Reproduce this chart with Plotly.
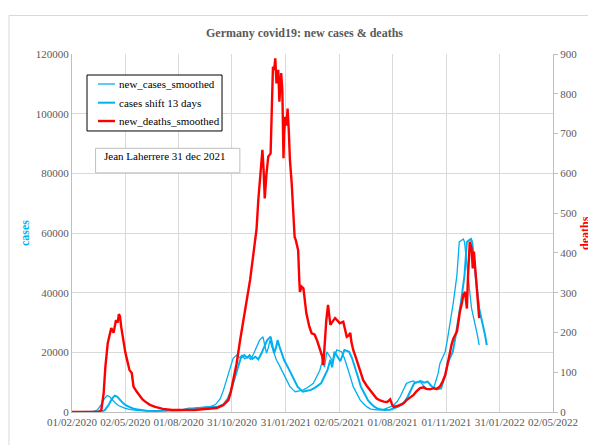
import pandas as pd
import plotly.graph_objects as go

# ---------------- data ----------------
case_dates = [
    "2020-02-01", "2020-03-07", "2020-03-15", "2020-03-22", "2020-03-27", "2020-04-01", "2020-04-05",
    "2020-04-11", "2020-04-15", "2020-04-21", "2020-05-02", "2020-05-11", "2020-05-25", "2020-06-10",
    "2020-06-30", "2020-07-15", "2020-07-30", "2020-08-09", "2020-08-18", "2020-08-29", "2020-09-13",
    "2020-09-24", "2020-10-03", "2020-10-11", "2020-10-16", "2020-10-22", "2020-10-28", "2020-11-02",
    "2020-11-08", "2020-11-13", "2020-11-17", "2020-11-22", "2020-11-27", "2020-12-02", "2020-12-07",
    "2020-12-12", "2020-12-17", "2020-12-23", "2020-12-26", "2020-12-29", "2021-01-01", "2021-01-04",
    "2021-01-07", "2021-01-11", "2021-01-15", "2021-01-21", "2021-01-27", "2021-02-01", "2021-02-07",
    "2021-02-12", "2021-02-16", "2021-02-23", "2021-03-02", "2021-03-09", "2021-03-15", "2021-03-19",
    "2021-03-25", "2021-03-30", "2021-04-04", "2021-04-07", "2021-04-11", "2021-04-16", "2021-04-21",
    "2021-04-28", "2021-05-06", "2021-05-11", "2021-05-15", "2021-05-21", "2021-05-26", "2021-06-01",
    "2021-06-07", "2021-06-13", "2021-06-18", "2021-06-25", "2021-07-05", "2021-07-15", "2021-07-22",
    "2021-07-28", "2021-08-03", "2021-08-09", "2021-08-14", "2021-08-20", "2021-08-25", "2021-08-30",
    "2021-09-05", "2021-09-11", "2021-09-17", "2021-09-23", "2021-09-28", "2021-10-04", "2021-10-10",
    "2021-10-15", "2021-10-18", "2021-10-21", "2021-10-30", "2021-11-03", "2021-11-07", "2021-11-13",
    "2021-11-19", "2021-11-23", "2021-11-27", "2021-11-30", "2021-12-02", "2021-12-05", "2021-12-08",
    "2021-12-11", "2021-12-14", "2021-12-17", "2021-12-20", "2021-12-24", "2021-12-27",
]
new_cases_smoothed = [
    0, 50, 600, 2500, 4400, 5500, 5200,
    3800, 3000, 2100, 1200, 800, 450, 350,
    400, 450, 650, 900, 1300, 1400, 1500,
    1800, 2500, 4500, 7000, 10700, 15000, 18000,
    19100, 18200, 19000, 17800, 18500, 17600, 19500,
    21500, 24000, 25200, 22000, 19700, 21500, 24100,
    22000, 19500, 17400, 15200, 13000, 11000, 8500,
    7500, 6800, 7100, 7400, 8200, 9200, 9600,
    12000, 14000, 17500, 15000, 20200, 18500, 17000,
    20800, 20200, 18000, 15200, 11800, 8500, 6000,
    4000, 2700, 1800, 1000, 700, 750, 1200,
    1700, 2300, 3500, 5100, 7400, 9600, 10000,
    10400, 9800, 10200, 8800, 7900, 7600, 7900,
    11000, 13000, 16300, 20200, 24500, 29100, 36900,
    45900, 57000, 57600, 58000, 57000, 52000, 45900,
    40000, 34700, 32000, 30300, 25800, 22400,
]
shift_days = 13  # "cases shift 13 days"

death_dates = [
    "2020-02-01", "2020-03-17", "2020-03-22", "2020-03-26", "2020-03-29", "2020-04-02", "2020-04-08",
    "2020-04-12", "2020-04-16", "2020-04-19", "2020-04-21", "2020-04-23", "2020-04-25", "2020-04-29",
    "2020-05-02", "2020-05-05", "2020-05-09", "2020-05-13", "2020-05-16", "2020-05-21", "2020-05-25",
    "2020-05-31", "2020-06-05", "2020-06-13", "2020-06-22", "2020-07-05", "2020-07-21", "2020-08-09",
    "2020-08-29", "2020-09-10", "2020-09-23", "2020-10-05", "2020-10-16", "2020-10-25", "2020-10-29",
    "2020-11-02", "2020-11-08", "2020-11-14", "2020-11-19", "2020-11-25", "2020-12-01", "2020-12-06",
    "2020-12-08", "2020-12-12", "2020-12-15", "2020-12-19", "2020-12-22", "2020-12-24", "2020-12-26",
    "2020-12-29", "2021-01-01", "2021-01-05", "2021-01-07", "2021-01-09", "2021-01-11", "2021-01-13",
    "2021-01-15", "2021-01-16", "2021-01-18", "2021-01-20", "2021-01-23", "2021-01-25", "2021-01-27",
    "2021-01-28", "2021-01-30", "2021-02-01", "2021-02-03", "2021-02-05", "2021-02-07", "2021-02-10",
    "2021-02-13", "2021-02-15", "2021-02-17", "2021-02-19", "2021-02-21", "2021-02-23", "2021-02-24",
    "2021-02-27", "2021-03-02", "2021-03-07", "2021-03-12", "2021-03-16", "2021-03-21", "2021-03-25",
    "2021-03-30", "2021-04-03", "2021-04-05", "2021-04-07", "2021-04-10", "2021-04-13", "2021-04-15",
    "2021-04-17", "2021-04-21", "2021-04-25", "2021-04-29", "2021-05-03", "2021-05-09", "2021-05-12",
    "2021-05-15", "2021-05-18", "2021-05-21", "2021-05-23", "2021-05-26", "2021-05-31", "2021-06-04",
    "2021-06-08", "2021-06-12", "2021-06-18", "2021-06-24", "2021-06-30", "2021-07-05", "2021-07-11",
    "2021-07-17", "2021-07-23", "2021-07-28", "2021-07-31", "2021-08-03", "2021-08-09", "2021-08-14",
    "2021-08-20", "2021-08-25", "2021-08-31", "2021-09-06", "2021-09-11", "2021-09-17", "2021-09-23",
    "2021-09-28", "2021-10-04", "2021-10-10", "2021-10-15", "2021-10-21", "2021-10-26", "2021-10-30",
    "2021-11-03", "2021-11-07", "2021-11-10", "2021-11-13", "2021-11-16", "2021-11-19", "2021-11-22",
    "2021-11-24", "2021-11-27", "2021-11-30", "2021-12-03", "2021-12-06", "2021-12-08", "2021-12-11",
    "2021-12-14", "2021-12-16", "2021-12-18", "2021-12-21", "2021-12-24", "2021-12-26", "2021-12-27",
]
new_deaths_smoothed = [
    0, 0, 5, 47, 114, 173, 211,
    199, 231, 225, 246, 240, 214, 173,
    150, 131, 106, 98, 64, 52, 43,
    32, 26, 18, 13, 8, 5, 5,
    5, 7, 8, 10, 17, 30, 50,
    80, 122, 181, 223, 273, 332, 390,
    415, 460, 533, 600, 659, 610, 537,
    600, 642, 650, 760, 868, 860, 889,
    826, 840, 860, 780, 852, 809, 638,
    700, 742, 720, 763, 709, 633, 575,
    491, 440, 432, 420, 407, 330, 302,
    315, 311, 248, 215, 198, 195, 181,
    156, 140, 118, 170, 230, 269, 240,
    219, 228, 236, 230, 223, 227, 205,
    189, 192, 199, 175, 156, 135, 118,
    100, 80, 66, 55, 43, 34, 29,
    26, 25, 32, 20, 13, 15, 18,
    22, 30, 36, 43, 52, 60, 62,
    58, 57, 60, 58, 64, 78, 93,
    120, 152, 170, 185, 192, 202, 230,
    252, 270, 294, 302, 260, 344, 428,
    411, 361, 403, 344, 302, 248, 236,
]

x_tick_dates = ["2020-02-01", "2020-05-02", "2020-08-01", "2020-10-31", "2021-01-31",
                "2021-05-02", "2021-08-01", "2021-11-01", "2022-01-31", "2022-05-02"]

series_names = ["new_cases_smoothed", "cases shift 13 days", "new_deaths_smoothed"]

# ---------------- styling ----------------
BLUE = "#00B0F0"
RED = "#FF0000"
GRID = "#D9D9D9"
AXIS = "#BFBFBF"
TXT = "#595959"
FONT = "Liberation Serif, Times New Roman, serif"
series_colors = [BLUE, BLUE, RED]
series_widths = [1.3, 2.0, 2.4]

cd = pd.to_datetime(case_dates)
shifted = cd + pd.Timedelta(days=shift_days)
dd = pd.to_datetime(death_dates)

fig = go.Figure()
fig.add_trace(go.Scatter(x=cd, y=new_cases_smoothed, mode="lines", name=series_names[0],
                         line=dict(color=series_colors[0], width=series_widths[0])))
fig.add_trace(go.Scatter(x=shifted, y=new_cases_smoothed, mode="lines", name=series_names[1],
                         line=dict(color=series_colors[1], width=series_widths[1])))
fig.add_trace(go.Scatter(x=dd, y=new_deaths_smoothed, mode="lines", name=series_names[2],
                         line=dict(color=series_colors[2], width=series_widths[2]), yaxis="y2"))

fig.update_layout(
    width=588, height=437,
    margin=dict(l=64, r=43, t=46, b=33),
    paper_bgcolor="white", plot_bgcolor="white",
    font=dict(family=FONT, size=11, color=TXT),
    showlegend=False,
    xaxis=dict(type="date", range=["2020-02-01", "2022-05-02"],
               tickvals=x_tick_dates, tickformat="%d/%m/%Y",
               showgrid=True, gridcolor=GRID, gridwidth=1,
               showline=True, linecolor=AXIS, linewidth=1,
               ticks="", zeroline=False,
               tickfont=dict(family=FONT, size=11, color=TXT)),
    yaxis=dict(range=[0, 120000], dtick=20000, tick0=0,
               showgrid=True, gridcolor=GRID, gridwidth=1,
               showline=True, linecolor=AXIS, linewidth=1,
               ticks="", zeroline=False, tickformat="d",
               tickfont=dict(family=FONT, size=11, color=TXT)),
    yaxis2=dict(overlaying="y", side="right", range=[0, 900], dtick=100, tick0=0,
                showgrid=False, showline=True, linecolor=AXIS, linewidth=1,
                ticks="outside", ticklen=4, tickcolor=AXIS, zeroline=False,
                tickfont=dict(family=FONT, size=11, color=TXT)),
)

# chart-area border
fig.add_shape(type="rect", xref="paper", yref="paper", x0=-0.131, x1=1.2, y0=-0.2, y1=1.1075,
              line=dict(color=GRID, width=1), fillcolor="rgba(0,0,0,0)", layer="below")

# legend box (manual, Excel style)
fig.add_shape(type="rect", xref="paper", yref="paper", x0=0.0312, x1=0.3119, y0=0.785, y1=0.9413,
              line=dict(color="black", width=1), fillcolor="white", layer="above")
legend_rows = [0.9162, 0.864, 0.8128]
for name, col, w, yy in zip(series_names, series_colors, series_widths, legend_rows):
    fig.add_shape(type="line", xref="paper", yref="paper", x0=0.054, x1=0.0894, y0=yy, y1=yy,
                  line=dict(color=col, width=w), layer="above")
    fig.add_annotation(x=0.0929, y=yy, xref="paper", yref="paper", xanchor="left", yanchor="middle",
                       text=name, showarrow=False,
                       font=dict(family=FONT, size=11, color="#000000"))

# author box
fig.add_shape(type="rect", xref="paper", yref="paper", x0=0.049, x1=0.349, y0=0.668, y1=0.7366,
              line=dict(color=AXIS, width=1), fillcolor="white", layer="above")
fig.add_annotation(x=0.062, y=0.716, xref="paper", yref="paper", xanchor="left", yanchor="middle",
                   text="Jean Laherrere 31 dec 2021", showarrow=False,
                   font=dict(family=FONT, size=11, color="#000000"))

# title
fig.add_annotation(x=0.4844, y=1.0587, xref="paper", yref="paper", xanchor="center", yanchor="middle",
                   text="<b>Germany covid19: new cases &amp; deaths</b>", showarrow=False,
                   font=dict(family=FONT, size=12, color=TXT))

# axis titles
fig.add_annotation(x=-0.0977, y=0.5, xref="paper", yref="paper", xanchor="center", yanchor="middle",
                   textangle=-90, text="<b>cases</b>", showarrow=False,
                   font=dict(family=FONT, size=12, color=BLUE))
fig.add_annotation(x=1.0665, y=0.5, xref="paper", yref="paper", xanchor="center", yanchor="middle",
                   textangle=-90, text="<b>deaths</b>", showarrow=False,
                   font=dict(family=FONT, size=12, color=RED))

fig.write_html("out.html")
